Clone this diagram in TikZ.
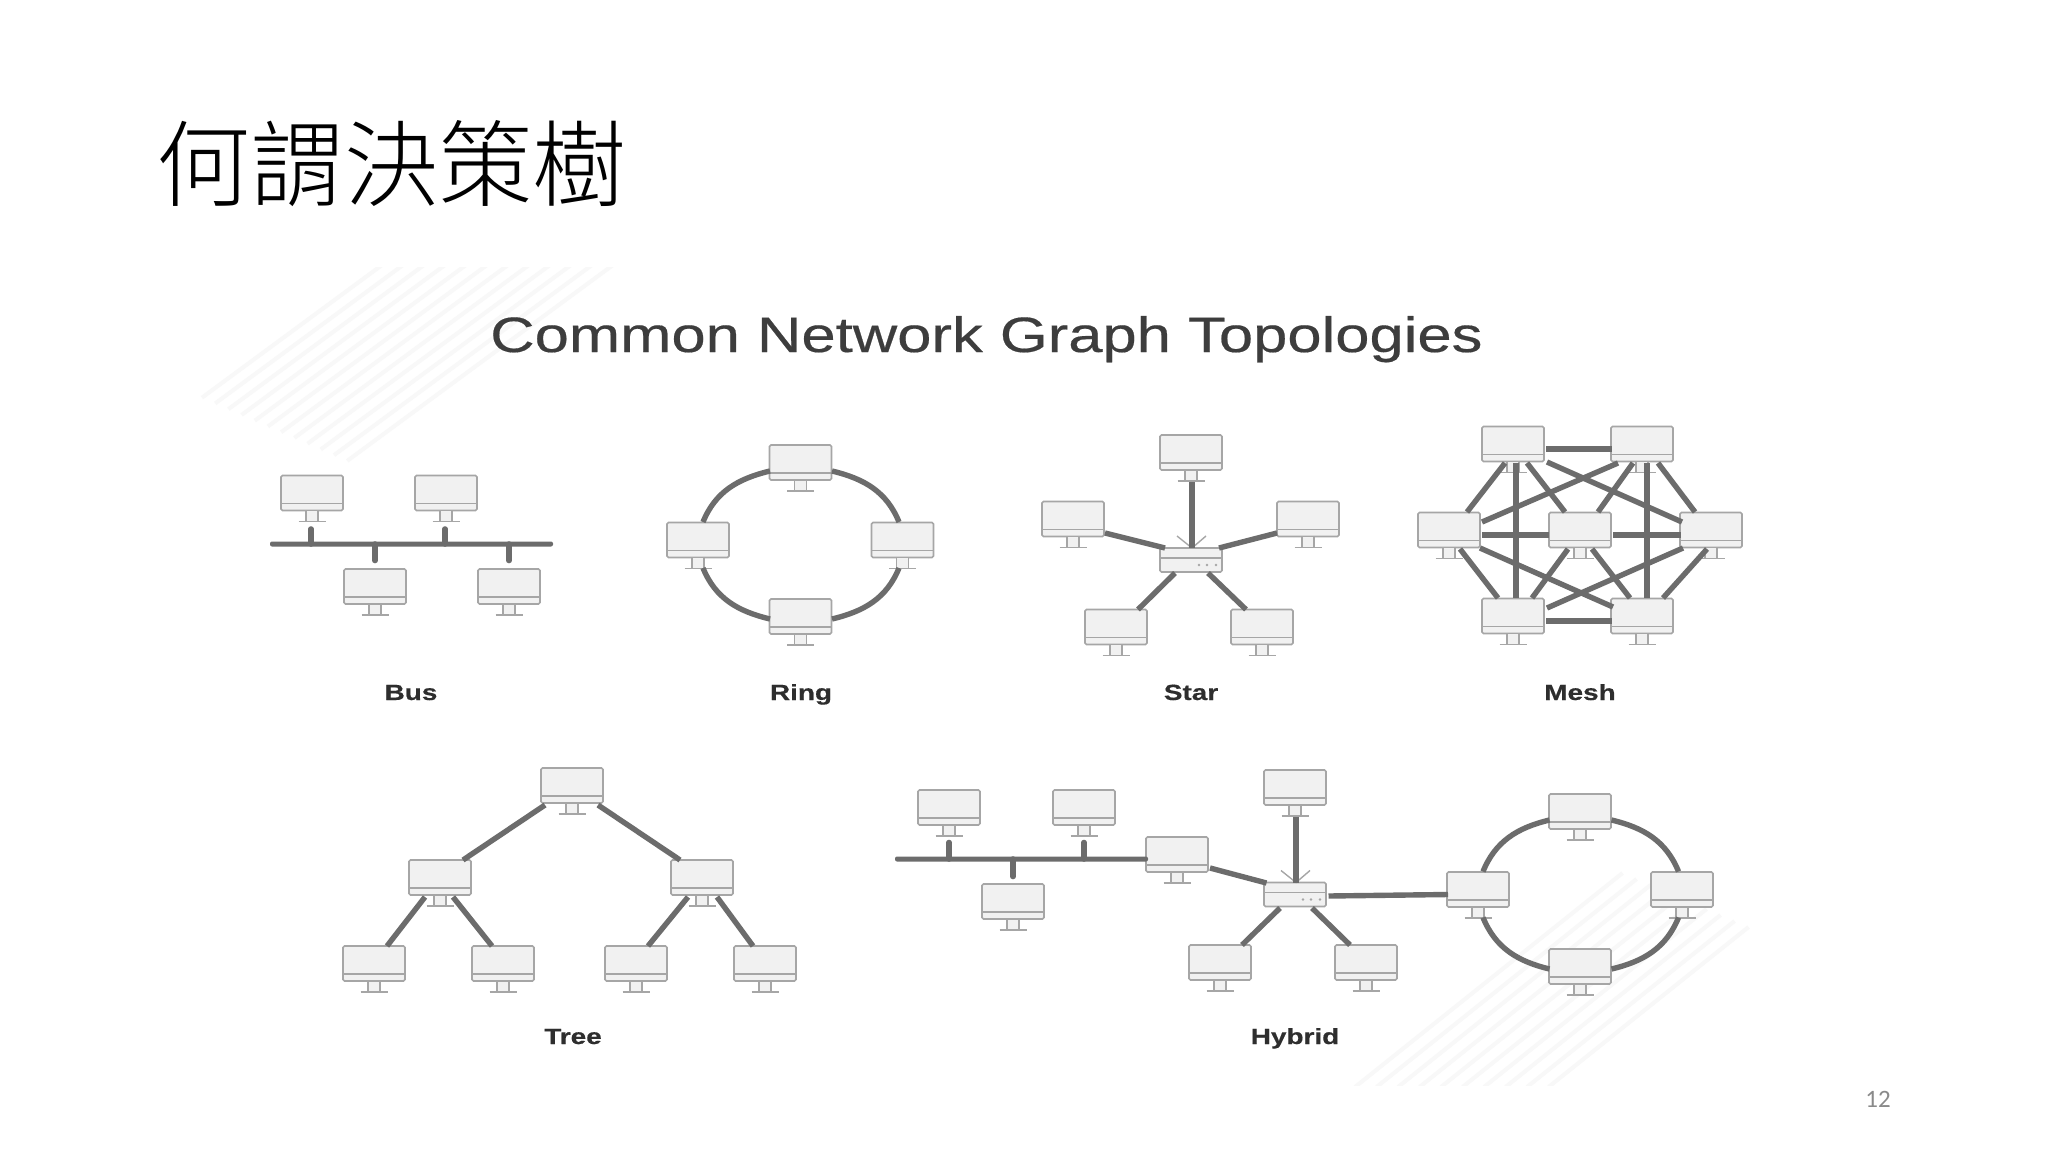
\documentclass[tikz,border=0pt]{standalone}
\usepackage{graphicx}
\usepackage{fontspec}
\setmainfont{Liberation Sans}
\newfontfamily\cjkfont{Noto Sans CJK TC Light}
\newfontfamily\pagefont{Carlito}
\newfontfamily\headfont{Liberation Sans}[FakeBold=0.35]
\newfontfamily\lblfont{Liberation Sans Bold}[FakeBold=0.4]
\definecolor{monedge}{HTML}{A6A6A6}
\definecolor{monfill}{HTML}{F1F1F1}
\definecolor{linkcol}{HTML}{6C6C6C}
\definecolor{stripecol}{HTML}{F8F8F8}
\tikzset{
  monbox/.style={draw=monedge,fill=monfill,line width=1.6pt,rounded corners=1.5pt,minimum width=62pt,minimum height=35pt,inner sep=0pt,outer sep=0pt},
  routerbox/.style={monbox,minimum height=24pt},
  monline/.style={draw=monedge,line width=1.6pt},
  link/.style={draw=linkcol,line width=5.4pt},
  busbar/.style={fill=linkcol,rounded corners=2pt,minimum height=5pt,inner sep=0pt,outer sep=0pt},
  stub/.style={link,line width=5.6pt,line cap=round},
  stripe/.style={draw=stripecol,line width=4pt},
  lbl/.style={anchor=base,inner sep=0pt,text=black!82,font=\lblfont\fontsize{22pt}{24pt}\selectfont},
}
\newcommand\monitor[3]{%
  \node[monbox] (#1) at (#2,#3) {};
  \draw[monline] ([shift={(-31,10.5)}]#1.center) -- ([shift={(31,10.5)}]#1.center);
  \draw[monline,fill=monfill] ([shift={(-6,17.5)}]#1.center) rectangle ([shift={(6,28.5)}]#1.center);
  \draw[monline] ([shift={(-13.5,28.5)}]#1.center) -- ([shift={(13.5,28.5)}]#1.center);
}
\newcommand\router[3]{%
  \node[routerbox] (#1) at (#2,#3) {};
  \draw[monline] ([shift={(-31,-2)}]#1.center) -- ([shift={(31,-2)}]#1.center);
  \foreach \dx in {8,16,25} \fill[monedge] ([shift={(\dx,5)}]#1.center) circle (1.3pt);
  \draw[monline,line width=1.4pt] ([shift={(-14,-12)}]#1.north) -- ([shift={(1,0)}]#1.north) -- ([shift={(15,-12)}]#1.north);
}
\newcommand\lnk[6]{\draw[link] ([shift={(#2,#3)}]#1.center) -- ([shift={(#5,#6)}]#4.center);}
\newcommand\ringlinks[4]{%
  \draw[link] ([shift={(-30.5,8.5)}]#1.center) to[out=193.5,in=67.8] ([shift={(5,-18)}]#2.center);
  \draw[link] ([shift={(31.5,8.5)}]#1.center) to[out=-13.5,in=112.2] ([shift={(-3.5,-18)}]#3.center);
  \draw[link] ([shift={(5,28)}]#2.center) to[out=-67.8,in=166.5] ([shift={(-30.5,2.5)}]#4.center);
  \draw[link] ([shift={(-3.5,28)}]#3.center) to[out=247.8,in=13.5] ([shift={(31.5,2.5)}]#4.center);
}
\begin{document}
\begin{tikzpicture}[x=1pt,y=-1pt]
\useasboundingbox (0,0) rectangle (2048,1152);
\fill[white] (0,0) rectangle (2048,1152);
% background stripes
\begin{scope}
  \clip (0,267) rectangle (2048,1085);
  \foreach \i in {0,...,11} {
    \pgfmathsetmacro\xa{382+21*\i}
    \pgfmathsetmacro\dxa{180+7.8*\i}
    \draw[stripe] (\xa,265) -- ({\xa-\dxa},{265+\dxa*0.737});
  }
  \foreach \i in {0,...,9} {
    \pgfmathsetmacro\xb{1355+21.5*\i}
    \pgfmathsetmacro\dyb{214-6*\i}
    \draw[stripe] (\xb,1087) -- ({\xb+\dyb/0.8},{1087-\dyb});
  }
\end{scope}
% titles
\node[anchor=center,inner sep=0pt,text=black] (title) at (391,164) {\cjkfont\fontsize{94pt}{100pt}\selectfont 何謂決策樹};
\node[anchor=base west,inner sep=0pt,text=black!76] (heading) at (490,352) {\resizebox{992pt}{36pt}{\headfont Common Network Graph Topologies}};
\node[anchor=base,inner sep=0pt,text=black!46] (pagenum) at (1878,1107) {\pagefont\fontsize{25pt}{26pt}\selectfont 12};
% labels
\node[lbl] (lbus) at (411,700) {\scalebox{1.27}[1]{Bus}};
\node[lbl] (lring) at (801,700) {\scalebox{1.27}[1]{Ring}};
\node[lbl] (lstar) at (1191,700) {\scalebox{1.27}[1]{Star}};
\node[lbl] (lmesh) at (1580,700) {\scalebox{1.27}[1]{Mesh}};
\node[lbl] (ltree) at (573,1044) {\scalebox{1.27}[1]{Tree}};
\node[lbl] (lhybrid) at (1295,1044) {\scalebox{1.27}[1]{Hybrid}};
% Bus
\monitor{ba}{312}{493}
\monitor{bb}{446}{493}
\monitor{bc}{375}{586.5}
\monitor{bd}{509}{586.5}
\node[busbar,minimum width=283pt] (bus) at (411.5,544) {};
\draw[stub] ([shift={(-1,36)}]ba.center) -- ([xshift=-1pt]ba.center |- bus.center);
\draw[stub] ([shift={(-1,36)}]bb.center) -- ([xshift=-1pt]bb.center |- bus.center);
\draw[stub] ([shift={(0,-26)}]bc.center) -- (bc.center |- bus.center);
\draw[stub] ([shift={(0,-26)}]bd.center) -- (bd.center |- bus.center);
% Ring
\monitor{rt}{800.5}{462.5}
\monitor{rl}{698}{540}
\monitor{rr}{902.5}{540}
\monitor{rb}{800.5}{616.5}
\ringlinks{rt}{rl}{rr}{rb}
% Star
\monitor{st}{1191}{452.5}
\monitor{sl}{1073}{519}
\monitor{sr}{1308}{519}
\monitor{sbl}{1116}{627}
\monitor{sbr}{1262}{627}
\router{sw}{1191}{560}
\lnk{st}{1}{29.5}{sw}{1}{-12}
\lnk{sl}{32}{14}{sw}{-26}{-12}
\lnk{sr}{-31}{14}{sw}{28}{-12}
\lnk{sw}{-16}{13}{sbl}{22}{-17.5}
\lnk{sw}{17}{13}{sbr}{-16}{-17.5}
% Mesh
\monitor{tl}{1513}{444}
\monitor{tr}{1642}{444}
\monitor{ml}{1449}{530}
\monitor{mc}{1580}{530}
\monitor{mr}{1711}{530}
\monitor{bl}{1513}{616}
\monitor{br}{1642}{616}
\lnk{tl}{33}{5}{tr}{-30}{5}
\lnk{tl}{-8}{19}{ml}{18}{-18}
\lnk{tl}{3}{19}{bl}{3}{-18}
\lnk{tl}{14}{19}{mc}{-15}{-18}
\lnk{tl}{34}{18}{mr}{-29}{-8}
\lnk{tr}{-24}{19}{ml}{33}{-8}
\lnk{tr}{-9}{19}{mc}{18}{-18}
\lnk{tr}{5}{19}{br}{5}{-18}
\lnk{tr}{16}{19}{mr}{-16}{-18}
\lnk{ml}{33}{5}{mc}{-31}{5}
\lnk{mc}{33}{5}{mr}{-30}{5}
\lnk{ml}{11}{19}{bl}{-15}{-18}
\lnk{ml}{31}{18}{br}{-29}{-9}
\lnk{mc}{-12}{19}{bl}{19}{-18}
\lnk{mc}{12}{19}{br}{-12}{-18}
\lnk{mr}{-28}{18}{bl}{34}{-8}
\lnk{mr}{-4}{19}{br}{21}{-18}
\lnk{bl}{33}{5}{br}{-30}{5}
% Tree
\monitor{ta}{572}{785.5}
\monitor{tb}{440}{877.5}
\monitor{tc}{702}{877.5}
\monitor{td}{374}{963.5}
\monitor{te}{503}{963.5}
\monitor{tf}{636}{963.5}
\monitor{tg}{765}{963.5}
\lnk{ta}{-27}{19.5}{tb}{23}{-17.5}
\lnk{ta}{26}{19.5}{tc}{-22}{-17.5}
\lnk{tb}{-15}{19.5}{td}{13}{-17.5}
\lnk{tb}{13}{19.5}{te}{-11}{-17.5}
\lnk{tc}{-14}{19.5}{tf}{12}{-17.5}
\lnk{tc}{15}{19.5}{tg}{-12}{-17.5}
% Hybrid
\monitor{ha}{949}{807.5}
\monitor{hb}{1084}{807.5}
\monitor{hc}{1013}{901.5}
\monitor{hd}{1177}{854.5}
\node[busbar,minimum width=253pt] (hbus) at (1021.5,859) {};
\draw[stub] ([shift={(0,35)}]ha.center) -- (ha.center |- hbus.center);
\draw[stub] ([shift={(0,35)}]hb.center) -- (hb.center |- hbus.center);
\draw[stub] ([shift={(0,-25)}]hc.center) -- (hc.center |- hbus.center);
\monitor{ht}{1295}{787.5}
\monitor{hbl}{1220}{962.5}
\monitor{hbr}{1366}{962.5}
\router{hs}{1295}{894.5}
\lnk{ht}{1}{29.5}{hs}{1}{-12}
\lnk{hd}{33}{13.5}{hs}{-28.5}{-11.5}
\lnk{hs}{-15}{13.5}{hbl}{22}{-17.5}
\lnk{hs}{17}{13.5}{hbr}{-16}{-17.5}
\monitor{qt}{1580}{811.5}
\monitor{ql}{1478}{889.5}
\monitor{qr}{1682}{889.5}
\monitor{qb}{1580}{966.5}
\lnk{hs}{33.5}{1.5}{ql}{-30}{5}
\ringlinks{qt}{ql}{qr}{qb}
\end{tikzpicture}
\end{document}
